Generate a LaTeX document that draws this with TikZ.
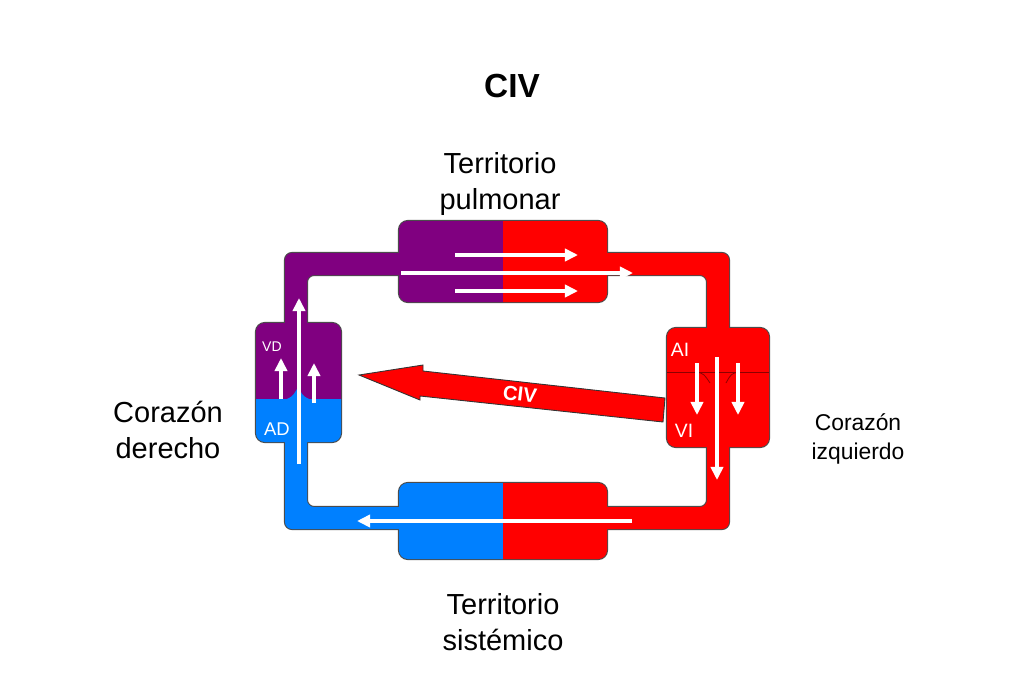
\documentclass[tikz,border=0pt]{standalone}
\usepackage{fontspec}
\setmainfont{Liberation Sans}
\usetikzlibrary{arrows.meta}

\definecolor{venous}{RGB}{128,0,128}
\definecolor{arterial}{RGB}{255,0,0}
\definecolor{systemic}{RGB}{0,128,255}

% whole circuit: loop of tubes, two organ boxes, two heart boxes
\newcommand{\circuit}[1]{%
  \path[#1, even odd rule, rounded corners=4] (285,253) rectangle (729,529) (307,275) rectangle (707,507);
  \path[#1, rounded corners=5] (399,221) rectangle (607,302);
  \path[#1, rounded corners=5] (399,483) rectangle (607,559);
  \path[#1, rounded corners=5] (256,323) rectangle (341,442);
  \path[#1, rounded corners=5] (667,328) rectangle (769,447);
}

\begin{document}
\begin{tikzpicture}[
    x=0.02cm, y=-0.02cm,
    flow/.style={white, line width=2.1pt, -{Triangle[length=7.5pt, width=7pt]}},
    shunt/.style={fill=arterial, draw=black!80, line width=0.5pt},
    valve/.style={draw=arterial!55!black, line width=0.45pt},
    title/.style={font=\fontsize{19}{23}\selectfont\bfseries},
    region/.style={align=center, font=\fontsize{16.5}{20.7}\selectfont},
    side/.style={align=center, font=\fontsize{13}{16.5}\selectfont},
    chamber/.style={text=white, inner sep=0pt, font=\fontsize{11}{13}\selectfont}
]
\useasboundingbox (0,0) rectangle (1024,683);

% outline first, then the colours on top
\circuit{draw=black!70, line width=1.2pt}
\begin{scope}
  \clip (0,0) rectangle (503,399);
  \circuit{fill=venous}
\end{scope}
\begin{scope}
  \clip (0,399) rectangle (503,683);
  \circuit{fill=systemic}
\end{scope}
\begin{scope}
  \clip (503,0) rectangle (1024,683);
  \circuit{fill=arterial}
\end{scope}

% valve between AD and VD
\fill[systemic] (287,399) .. controls (293,397) and (296,391) .. (298,387)
  .. controls (300,391) and (303,397) .. (309,399) -- cycle;

% valve between AI and VI
\draw[valve] (667,372) -- (769,372);
\draw[valve] (697,372) .. controls (704,374) .. (710,383);
\draw[valve] (738,372) .. controls (731,374) .. (726,383);

% flow in the lungs
\draw[flow] (455,255) -- (578,255);
\draw[flow] (401,273) -- (633,273);
\draw[flow] (455,291) -- (578,291);

% flow in the body
\draw[flow] (632,521) -- (357,521);

% flow in the right heart
\draw[flow] (299,464) -- (299,298);
\draw[flow] (281,399) -- (281,358);
\draw[flow] (314,403) -- (314,363);

% flow in the left heart
\draw[flow] (697,363) -- (697,415);
\draw[flow] (738,363) -- (738,415);
\draw[flow] (717,357) -- (717,480);

% the defect
\draw[shunt] (665,398) -- (423,371) -- (423,365) -- (359,375) -- (420,400) -- (420,396) -- (663,422) -- cycle;
\node[rotate=-6.5, text=white, font=\fontsize{11.5}{13}\selectfont\bfseries] (shuntlabel) at (520,394) {CIV};

% labels
\node[title] (heading) at (512,86) {CIV};
\node[region] (pulmonar) at (500,184) {Territorio\\pulmonar};
\node[region] (sistemico) at (503,622) {Territorio\\sistémico};
\node[region] (derecho) at (168,430) {Corazón\\derecho};
\node[side] (izquierdo) at (858,439) {Corazón\\izquierdo};

\node[chamber, font=\fontsize{8}{10}\selectfont] (vd) at (272,347) {VD};
\node[chamber, font=\fontsize{10.5}{12}\selectfont] (ad) at (277,429) {AD};
\node[chamber] (ai) at (680,350) {AI};
\node[chamber] (vi) at (684,431) {VI};

\end{tikzpicture}
\end{document}
